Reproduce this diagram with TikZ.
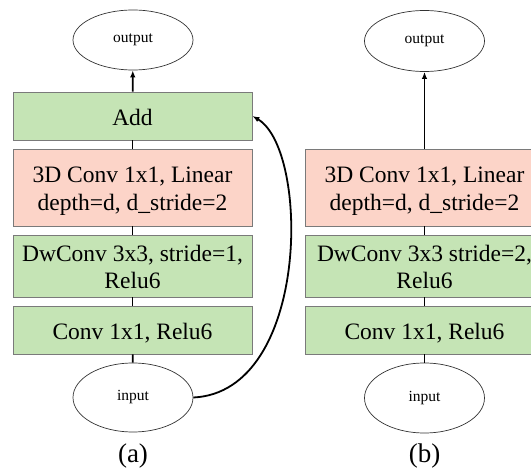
\documentclass[tikz,border=0pt]{standalone}
\usepackage{fontspec}
\setmainfont{Liberation Serif}[Ligatures=TeX]
\newfontfamily\tnr{Liberation Serif}
\usetikzlibrary{shapes.geometric,arrows.meta}
\definecolor{boxgreen}{HTML}{C5E4B5}
\definecolor{boxpink}{HTML}{FCD4C8}
\definecolor{boxedge}{HTML}{7A7A7A}
\tikzset{
  layer/.style={draw=boxedge, line width=0.9pt, minimum width=239pt, inner sep=0pt,
    align=center, font=\tnr\fontsize{23.5}{28}\selectfont, text depth=0pt},
  oneline/.style={text height=19pt},
  twoline/.style={text height=46pt},
  gbox/.style={layer, fill=boxgreen},
  pbox/.style={layer, fill=boxpink},
  io/.style={draw=black!80, line width=0.7pt, ellipse, minimum width=120pt, inner sep=0pt,
    font=\tnr\fontsize{15.5}{18}\selectfont},
  link/.style={line width=1.8pt, black},
  arr/.style={link, -{Latex[length=7pt,width=5.5pt]}},
  sublabel/.style={font=\tnr\fontsize{27}{28}\selectfont}
}
\begin{document}
\begin{tikzpicture}[x=1pt,y=-1pt]
\useasboundingbox (0,0) rectangle (531,468);
% ---- (a)
\node[io, minimum height=60pt] (oa) at (133,40) {output};
\node[gbox, oneline, minimum height=48pt] (adda) at (132.5,116) {Add};
\node[pbox, twoline, minimum height=77pt] (pa) at (132.5,187.5) {3D Conv 1x1, Linear\\depth=d, d\_stride=2};
\node[gbox, twoline, minimum height=62pt] (dwa) at (132.5,266) {DwConv 3x3, stride=1,\\Relu6};
\node[gbox, oneline, minimum height=48pt] (ca) at (132.5,330) {Conv 1x1, Relu6};
\node[io, minimum height=69pt] (ia) at (133,397.5) {input};
\node[sublabel] (la) at (133,456) {(a)};
\draw[link] (ia) -- (ca);
\draw[link] (ca) -- (dwa);
\draw[link] (dwa) -- (pa);
\draw[link] (pa) -- (adda);
\draw[arr] (adda) -- (oa);
\draw[arr] (ia.east) .. controls (310,392) and (310,150) .. (adda.east);
% ---- (b)
\node[io, minimum height=61pt] (ob) at (424.5,41) {output};
\node[pbox, twoline, minimum height=77pt] (pb) at (424.5,187.5) {3D Conv 1x1, Linear\\depth=d, d\_stride=2};
\node[gbox, twoline, minimum height=62pt] (dwb) at (424.5,266) {DwConv 3x3 stride=2,\\Relu6};
\node[gbox, oneline, minimum height=48pt] (cb) at (424.5,330) {Conv 1x1, Relu6};
\node[io, minimum height=70pt] (ib) at (424.5,398) {input};
\node[sublabel] (lb) at (424.5,456) {(b)};
\draw[link] (ib) -- (cb);
\draw[link] (cb) -- (dwb);
\draw[link] (dwb) -- (pb);
\draw[arr] (pb) -- (ob);
\end{tikzpicture}
\end{document}
